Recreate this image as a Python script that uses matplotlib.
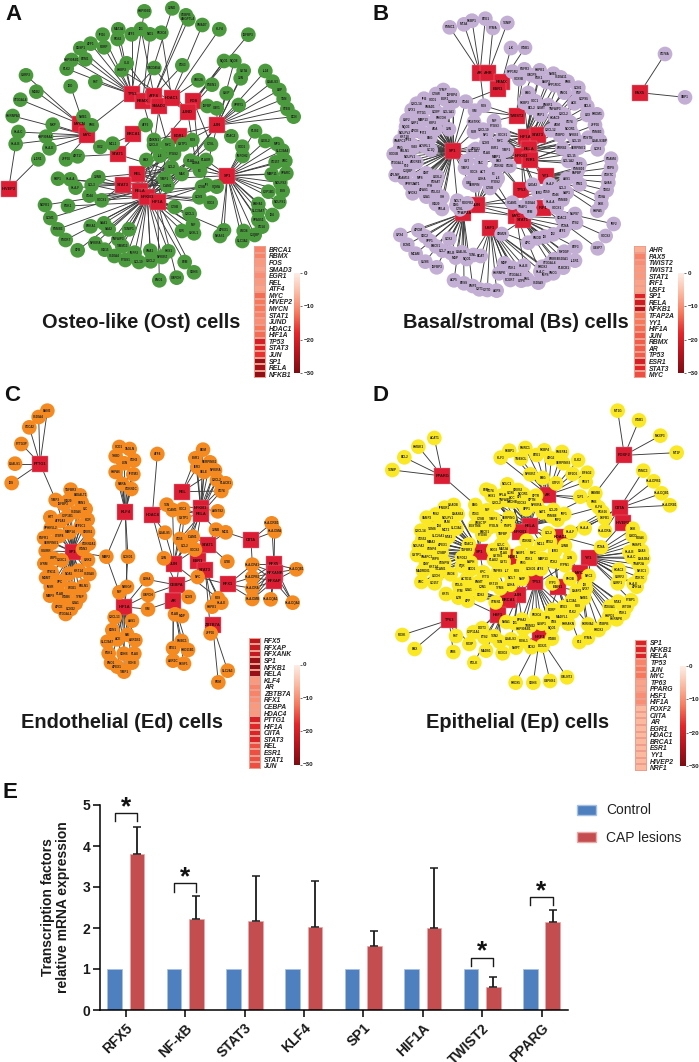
import matplotlib
matplotlib.use("Agg")
import matplotlib.pyplot as plt
from matplotlib.cm import ScalarMappable
from matplotlib.collections import LineCollection
from matplotlib.colors import LinearSegmentedColormap, Normalize
from matplotlib.patches import Patch
import numpy as np

plt.rcParams['font.family'] = ['Liberation Sans', 'DejaVu Sans']

W, H = 699, 1062

# network data: hub -> (x, y) and (gene, x, y, "hubs it links to")
hubs_a = {"TP53": (395, 282), "RBMX": (428, 303), "ATF4": (462, 287), "SMAD3": (478, 317), "HDAC1": (515, 295),
          "FOS": (580, 304), "JUND": (563, 336), "JUN": (652, 375), "EGR1": (536, 408), "BRCA1": (400, 403),
          "MYCN": (240, 372), "MYC": (262, 406), "STAT1": (353, 463), "REL": (412, 521), "STAT3": (369, 554),
          "RELA": (421, 572), "NFKB1": (442, 590), "HIF1A": (473, 605), "SP1": (682, 527), "HIVEP2": (26, 567)}
genes_a = [
    ("HSP90B1", 433, 34, "TP53"), ("JUND", 517, 25, "RBMX"), ("CEBPB", 558, 46, "ATF4"), ("ANGPTL4", 565, 58, "ATF4"),
    ("SMAD7", 607, 75, "HDAC1"), ("KLF4", 658, 88, "HDAC1"), ("IGFBP3", 745, 104, "FOS"), ("MAT2A", 355, 88, "TP53"),
    ("ID1", 423, 87, "ATF4"), ("ATF3", 395, 103, "TP53"), ("NID1", 450, 103, "RBMX"), ("REXO2", 484, 98, "HDAC1"),
    ("RGS2", 353, 117, "TP53"), ("IFI16", 308, 104, "TP53"), ("AFF1", 272, 131, "TP53"), ("PDRP", 312, 142, "TP53"),
    ("DUSP1", 241, 145, "TP53"), ("HSP90AB1", 215, 180, "TP53"), ("BTM1", 256, 178, "TP53"), ("PLK2", 200, 206, "TP53"),
    ("CLU", 380, 190, "SMAD3"), ("HSBP2", 365, 210, "JUND"), ("GADD45A", 463, 204, "TP53 JUND"), ("CD63", 547, 196, "ATF4"),
    ("NQO1", 672, 183, "JUND FOS"), ("NQO8", 703, 183, "JUN"), ("CKTA", 731, 212, "JUN"), ("JUN", 722, 235, "JUN"),
    ("IL24", 796, 213, "JUN"), ("LGALS3", 818, 245, "JUN"), ("LBP", 838, 270, "JUN"), ("TGN", 851, 297, "JUN"),
    ("STEG", 862, 327, "JUN"), ("DCN", 881, 350, "JUN"), ("UBE2S", 595, 241, "HDAC1"), ("PSEN1", 636, 254, "JUND"),
    ("GNIP", 680, 280, "JUN"), ("SPRY1", 716, 315, "JUN"), ("IGFBP", 622, 318, "JUND"), ("CAV1", 650, 325, "JUN"),
    ("IDO", 212, 259, "MYC"), ("FST", 286, 246, "TP53"), ("CSRP2", 78, 226, "MYCN"), ("MGB2", 109, 275, "MYCN"),
    ("ST3GAL4", 61, 299, "MYCN"), ("HNRNPA3", 38, 348, "MYC"), ("NME1", 250, 350, "MYC"), ("PHB", 275, 376, "TP53"),
    ("MXP", 158, 374, "MYC"), ("HLA-C", 55, 396, "MYC"), ("HSP90AA1", 138, 410, "MYC"), ("HLA-B", 47, 432, "MYC HIVEP2"),
    ("HLA-E", 148, 445, "MYC"), ("ATF3", 437, 375, "BRCA1 STAT1"), ("IL1R1", 115, 478, "HIVEP2"), ("ZFP36", 198, 478, "MYC"),
    ("ART17", 233, 469, "STAT1"), ("SIX2", 301, 441, "MYC"), ("MCL1", 338, 431, "BRCA1"), ("CMKN1", 462, 420, "RBMX JUN"),
    ("CXCL8", 462, 436, "RELA SMAD3"), ("MYC", 503, 435, "HIF1A ATF4"), ("GSTP1", 549, 433, "NFKB1 EGR1"), ("FOS", 577, 420, "RELA EGR1"),
    ("CTSL", 633, 433, "NFKB1 FOS"), ("UDAC2", 694, 409, "JUN"), ("PLIS2", 765, 394, "SP1"), ("LOXL2", 796, 423, "SP1"),
    ("SOD1", 727, 440, "SP1"), ("IMPDH2", 728, 468, "SP1"), ("MPG", 831, 432, "SP1"), ("SLC39A4", 848, 452, "SP1"),
    ("CD157", 827, 487, "SP1"), ("UBC", 856, 483, "SP1"), ("MMP11", 815, 523, "SP1"), ("SPARC", 859, 520, "SP1"),
    ("NDUFS3", 841, 548, "SP1"), ("CYP1B1", 805, 575, "SP1"), ("ESS", 848, 573, "SP1"), ("BAHA3", 775, 612, "SP1"),
    ("NDUFS1", 838, 606, "SP1"), ("SLC39A7", 775, 632, "SP1"), ("SPAG51", 775, 660, "SP1"), ("ID4", 817, 645, "SP1"),
    ("CD14", 786, 680, "SP1"), ("LMO4", 731, 693, "SP1"), ("C1QBP", 764, 705, "SP1"), ("SLC3A2", 727, 723, "SP1"),
    ("APEX1", 672, 691, "SP1 HIF1A"), ("NRAS1", 660, 708, "SP1"), ("BAX", 439, 480, "RELA HIF1A JUND"), ("IL6", 480, 467, "RELA NFKB1 STAT3 JUN"),
    ("PTGS2", 522, 462, "REL RELA HIF1A STAT3"), ("PLAU", 571, 482, "RELA NFKB1 JUN SP1"), ("LDHA", 588, 490, "HIF1A SP1 JUND"), ("PLAUR", 618, 480, "RELA NFKB1 SP1"),
    ("F3", 600, 512, "REL SP1 FOS"), ("CCL2", 515, 502, "RELA NFKB1 REL STAT3 EGR1"), ("MAX", 545, 522, "HIF1A STAT1 RELA"), ("TIMP1", 493, 536, "REL RELA STAT3 SP1"),
    ("ICAM1", 502, 557, "REL STAT3 NFKB1 JUN"), ("CTSB", 606, 560, "NFKB1 SP1"), ("IFI", 620, 555, "HIF1A SP1"), ("SQMA", 650, 560, "RELA SP1"),
    ("CCN2", 598, 592, "NFKB1 SP1 JUN"), ("SOD3", 632, 608, "RELA NFKB1"), ("CTSB", 524, 621, "STAT3 HIF1A"), ("CXCL1", 569, 642, "NFKB1 STAT3"),
    ("MIF", 579, 674, "HIF1A NFKB1"), ("CHSL1", 582, 700, "NFKB1"), ("F2R", 546, 693, "RELA"), ("PBP1", 174, 536, "STAT3"),
    ("HLA-A", 211, 538, "STAT3"), ("HLA-F", 227, 563, "STAT3"), ("JUNB", 295, 532, "STAT3 REL"), ("CCL3", 275, 555, "NFKB1 STAT3"),
    ("CD44", 268, 587, "RELA NFKB1"), ("SOCS1", 305, 601, "STAT3 RELA NFKB1"), ("PGK1", 204, 618, "HIF1A"), ("NDFB1", 135, 615, "RELA"),
    ("CCM1", 151, 654, "RELA"), ("PSMB3", 173, 688, "NFKB1"), ("PSORT", 197, 720, "NFKB1"), ("CFB", 233, 751, "NFKB1"),
    ("ERKA1", 272, 679, "NFKB1"), ("SAA1", 312, 670, "NFKB1"), ("SAA2", 326, 688, "NFKB1"), ("TXNIP1", 387, 688, "NFKB1"),
    ("TNFAIP3", 355, 718, "NFKB1"), ("TIMM13", 367, 739, "NFKB1"), ("NFKBIA", 286, 730, "NFKB1"), ("ISG15", 314, 749, "NFKB1"),
    ("S100A4", 343, 768, "NFKB1"), ("PTGS1", 376, 780, "NFKB1"), ("IMPF2", 404, 758, "NFKB1"), ("CCL19", 417, 786, "NFKB1"),
    ("SNA1", 451, 752, "NFKB1"), ("CSCL2", 452, 784, "NFKB1"), ("NFKBIZ", 486, 771, "NFKB1"), ("HES1", 505, 754, "NFKB1"),
    ("B2M", 554, 786, "NFKB1"), ("SDHB", 582, 817, "HIF1A"), ("GAPDH", 530, 833, "HIF1A"), ("ENO1", 478, 841, "HIF1A"),
]

hubs_b = {"AR": (390, 218), "AHR": (415, 220), "RBMX": (455, 247), "ESR1": (443, 268), "TWIST2": (500, 347),
          "HIF1A": (527, 411), "STAT3": (563, 404), "RELA": (537, 448), "NFKB1": (515, 468), "F2R1": (541, 481),
          "PAX5": (870, 278), "SP1": (308, 453), "JUN": (380, 614), "TFAP2A": (340, 640), "USF1": (421, 683),
          "TP53": (513, 570), "YY1": (588, 528), "IRF1": (580, 624), "MYC": (499, 648), "STAT1": (518, 660)}
genes_b = [
    ("PSMC1", 299, 82, "AR"), ("MT2A", 342, 73, "AR"), ("PEBP1", 366, 62, "AR"), ("BTG1", 406, 56, "AR"), ("PTMA", 429, 84, "AHR"),
    ("TXNIP", 472, 69, "AHR"), ("ILK", 483, 144, "RBMX"), ("ITGB1", 525, 143, "ESR1"), ("CD74A", 945, 162, "PAX5"), ("XBP1", 1005, 292, "PAX5"),
    ("PPP1R2", 487, 215, "ESR1"), ("FGFR3", 523, 208, "TWIST2"), ("SOX9B", 508, 237, "TWIST2"), ("GADPS", 546, 226, "TWIST2"), ("HSPB1", 569, 211, "HIF1A"),
    ("NME1", 610, 221, "HIF1A"), ("PGK1", 567, 235, "HIF1A"), ("S100A11", 632, 232, "STAT3"), ("BNIP3", 590, 246, "HIF1A"), ("PPP1R3C", 615, 256, "HIF1A"),
    ("PHB", 653, 245, "STAT3"), ("CCN1", 685, 263, "STAT3"), ("ENO1", 643, 278, "HIF1A"), ("PGF", 685, 279, "STAT3"), ("BAG", 535, 279, "TWIST2"),
    ("FKBP3", 523, 308, "RELA"), ("SOC1", 556, 304, "HIF1A"), ("BCL2", 544, 324, "NFKB1"), ("CKMT", 575, 324, "RELA"), ("ENSR1", 594, 315, "RELA"),
    ("TNFAIP3", 617, 328, "RELA"), ("ACE", 673, 310, "STAT3"), ("COPS5", 702, 298, "STAT3"), ("BCL6", 712, 319, "STAT3"), ("LOX", 712, 345, "STAT3"),
    ("PRDM1", 741, 343, "STAT3"), ("PKP1", 571, 345, "RELA"), ("HDAC9", 616, 353, "STAT3"), ("CXCL2", 642, 343, "RELA"), ("CD74", 660, 367, "RELA"),
    ("NCOR1", 660, 386, "STAT3"), ("ZFP36", 735, 375, "RELA"), ("PSMB3", 741, 397, "NFKB1"), ("ADM", 623, 374, "HIF1A"), ("CXCL12", 603, 391, "NFKB1"),
    ("CEBPD", 630, 406, "STAT3"), ("NFKB2", 670, 405, "RELA"), ("COL19", 680, 423, "RELA"), ("POSTN", 715, 413, "F2R1"), ("LGALS3BP", 750, 422, "RELA"),
    ("ERRB2", 637, 445, "F2R1"), ("SERPINE1", 686, 443, "RELA"), ("CCR3", 743, 448, "F2R1"), ("COL15", 664, 469, "RELA"), ("COL1A2", 655, 483, "F2R1"),
    ("TAP2", 689, 493, "F2R1"), ("PSMB10", 685, 508, "YY1"), ("FAPBP", 680, 520, "YY1"), ("PGAM4", 783, 476, "YY1"), ("FDPS", 783, 503, "YY1"),
    ("CDK7C", 776, 526, "YY1"), ("GNAS", 775, 548, "YY1"), ("TDO2", 770, 571, "YY1"), ("CD9A", 755, 590, "YY1"), ("DEK", 754, 612, "YY1"),
    ("HSPA5", 742, 632, "YY1"), ("PIM1", 689, 553, "YY1"), ("ASS1", 650, 536, "YY1"), ("HLA-F", 600, 553, "IRF1 MYC"), ("CCL3", 637, 565, "F2R1"),
    ("SAP1", 650, 578, "IRF1"), ("CD46", 618, 585, "TP53"), ("PSMB9", 638, 599, "IRF1"), ("HLA-A", 600, 605, "STAT1"), ("SOCS1", 620, 623, "STAT1"),
    ("IER2", 566, 578, "NFKB1 JUN"), ("CD59", 590, 575, "RELA"), ("NUP87", 675, 642, "IRF1"), ("ETS2", 678, 668, "IRF1"), ("IRF2", 791, 672, "IRF1"),
    ("SOCS2", 767, 708, "IRF1"), ("CASP7", 743, 745, "IRF1"), ("ODAC2", 637, 655, "MYC"), ("PCNA", 645, 678, "MYC"), ("ATF3", 638, 693, "STAT1"),
    ("IDI", 585, 710, "STAT1"), ("ID2", 610, 703, "MYC"), ("FMOD", 561, 715, "MYC"), ("APC", 535, 728, "USF1"), ("CRM28", 455, 702, "STAT1"),
    ("BTF3", 676, 741, "MYC"), ("MYDGF", 643, 755, "MYC"), ("IL1R1", 675, 782, "MYC"), ("S100A1", 640, 778, "STAT1"), ("ERBB4", 612, 778, "STAT1"),
    ("ST3GAL4", 600, 790, "STAT1"), ("PRDX3", 577, 800, "USF1"), ("PLBCB1", 640, 803, "STAT1"), ("SNCG", 610, 820, "USF1"), ("IMPS", 587, 826, "USF1"),
    ("S100A9", 565, 848, "USF1"), ("PML", 532, 838, "USF1"), ("UTP6", 514, 842, "USF1"), ("FCGRT", 481, 840, "USF1"), ("ST3GAL3", 498, 825, "USF1"),
    ("HNRNPK", 447, 820, "USF1"), ("MDP", 463, 790, "USF1"), ("PGK1", 486, 803, "USF1"), ("HLA-B", 521, 797, "MYC"), ("HLA-C", 571, 815, "MYC"),
    ("GPX4", 151, 705, "TFAP2A"), ("APOM", 205, 691, "TFAP2A"), ("SDC2", 225, 709, "TFAP2A"), ("SPP1", 240, 723, "TFAP2A"), ("BACE1", 258, 739, "TFAP2A"),
    ("ECM1", 172, 734, "TFAP2A"), ("MCAM", 197, 761, "TFAP2A"), ("GUSB", 226, 785, "TFAP2A"), ("IGFBP3", 260, 802, "TFAP2A"), ("COX2", 298, 716, "TFAP2A"),
    ("CCL7", 278, 752, "TFAP2A"), ("RELB", 303, 759, "TFAP2A"), ("LGALSL", 335, 757, "TFAP2A"), ("MGP", 317, 773, "TFAP2A"), ("NQO1", 350, 777, "TFAP2A"),
    ("TXNL", 370, 765, "USF1"), ("BCAT", 392, 768, "USF1"), ("ACP5", 312, 841, "TFAP2A"), ("BYSS", 342, 850, "TFAP2A"), ("EMP3", 368, 858, "TFAP2A"),
    ("CXT1", 388, 868, "USF1"), ("CYTO", 412, 870, "USF1"), ("AGPS", 440, 872, "USF1"),
    ("TYMP", 280, 270, "SP1"), ("IGFBP4", 308, 285, "SP1"), ("CTSW", 258, 282, "SP1"), ("IFI6", 222, 296, "SP1"), ("EGR1", 285, 298, "SP1"),
    ("SOD1", 250, 300, "SP1"), ("CSRP2", 310, 305, "SP1"), ("CXCL14", 200, 311, "SP1"), ("SMAD1", 240, 322, "SP1"), ("GPX1", 185, 330, "SP1"),
    ("PTTG1", 215, 338, "SP1"), ("COBP", 258, 335, "SP1"), ("COL1A1", 295, 335, "SP1"), ("USF2", 170, 360, "SP1"), ("MMP13", 218, 360, "SP1"),
    ("PHGDH", 273, 355, "SP1"), ("GBP1", 194, 368, "SP1"), ("KBP2", 248, 368, "SP1"), ("NQO3", 168, 380, "SP1"), ("APOE", 195, 392, "SP1"),
    ("ADA", 256, 388, "SP1"), ("JUN", 297, 388, "SP1"), ("NDUFV2", 165, 398, "SP1"), ("IFIT3", 220, 400, "SP1"), ("KRT18", 165, 410, "SP1"),
    ("BSG", 241, 414, "SP1"), ("SNAPC1", 150, 423, "SP1"), ("VSEI", 192, 440, "SP1"), ("TP53", 175, 420, "SP1"), ("GC1Q", 242, 450, "SP1"),
    ("ENG", 150, 444, "SP1"), ("FBLN1", 163, 453, "SP1"), ("NDUFV1", 179, 470, "SP1"), ("ACVRL1", 224, 439, "SP1"), ("SOD6B", 131, 463, "SP1"),
    ("ST3GAL1", 144, 489, "SP1"), ("F10", 168, 497, "SP1"), ("ADGRE5", 199, 487, "SP1"), ("C1QBP", 175, 513, "SP1"), ("CMT", 229, 520, "SP1"),
    ("APLNR", 137, 525, "SP1"), ("ADAM15", 163, 535, "SP1"), ("MPS", 210, 535, "SP1"), ("LOXL2", 262, 530, "SP1"), ("POSAT", 256, 547, "SP1"),
    ("SPRY2", 180, 553, "SP1"), ("SAT1", 200, 553, "SP1"), ("PTH", 240, 558, "SP1"), ("AFAS1", 222, 570, "SP1"), ("NFOX2", 188, 580, "SP1"),
    ("POLG2", 257, 576, "SP1"), ("GJA1", 229, 590, "SP1"), ("ISG20", 258, 612, "SP1"), ("SIH", 277, 592, "SP1"), ("RELA", 276, 627, "SP1"),
    ("COL1A1", 370, 453, "SP1 HIF1A"), ("CD44", 347, 305, "SP1 ESR1"), ("VIM", 375, 332, "SP1 TWIST2"), ("FOS", 402, 317, "AR TWIST2"), ("MIF", 432, 363, "NFKB1 TWIST2"),
    ("PTGS3", 433, 378, "HIF1A NFKB1"), ("CXCL10", 400, 389, "RELA NFKB1"), ("RGSTRK", 372, 366, "HIF1A"), ("FUR", 372, 396, "SP1 NFKB1"), ("NF1", 408, 405, "HIF1A NFKB1"),
    ("SOCS1", 460, 405, "RELA HIF1A"), ("CCN2", 409, 429, "NFKB1 SP1"), ("MYC", 450, 424, "HIF1A RELA NFKB1"), ("ESR1", 433, 445, "RELA F2R1"), ("PLAU", 410, 459, "NFKB1 SP1"),
    ("MMP1", 438, 471, "RELA F2R1 JUN"), ("TIMP1", 470, 451, "NFKB1 RELA"), ("APEX1", 377, 447, "SP1"), ("GST", 350, 483, "SP1"), ("TAC", 392, 488, "SP1 NFKB1"),
    ("BAX", 448, 484, "TP53 RELA"), ("CDKN2", 447, 497, "TP53 F2R1"), ("CD24", 478, 498, "NFKB1 YY1"), ("TIMP2", 345, 504, "SP1"), ("SOCS", 372, 517, "JUN SP1"),
    ("ACT", 398, 516, "JUN"), ("F3", 430, 521, "JUN NFKB1"), ("LOHA", 397, 536, "MYC"), ("IL6", 443, 535, "JUN NFKB1"), ("PTOS2", 436, 547, "MYC"),
    ("CAV", 358, 548, "SP1"), ("SERPIN", 375, 556, "JUN"), ("CTSB", 420, 564, "JUN MYC"), ("NOL7", 322, 602, "SP1"), ("DSG", 319, 616, "JUN"),
    ("PDGFB2", 352, 610, "MYC"), ("CTSL", 330, 628, "MYC"), ("VCAM1", 487, 608, "JUN MYC"), ("TRAF1", 520, 620, "NFKB1"), ("S100A4", 540, 610, "TP53"),
    ("B2M", 540, 635, "NFKB1 JUN"), ("CSDA2", 548, 554, "NFKB1 TP53"),
]

hubs_c = {"PTTG1": (120, 236), "SP1": (218, 500), "KLF4": (376, 380), "HDAC4": (457, 390), "REL": (547, 320),
          "NFKB1": (602, 370), "RELA": (603, 387), "CIITA": (753, 466), "STAT1": (624, 479), "JUN": (522, 536),
          "ESR1": (593, 527), "STAT3": (616, 556), "CEBPA": (530, 600), "AR": (520, 647), "RFX1": (685, 598),
          "RFX5": (822, 538), "RFXANK": (824, 563), "RFXAP": (822, 588), "HIF1A": (373, 665), "ZBTB7A": (638, 721)}
genes_c = [
    ("BNN3", 142, 77, "PTTG1"), ("S100A4", 116, 96, "PTTG1"), ("CDC42", 88, 127, "PTTG1"), ("PTTG3P", 64, 177, "PTTG1"), ("LGALS1", 45, 236, "PTTG1"),
    ("IDS", 35, 294, "PTTG1"), ("TIMP3", 167, 345, "SP1 PTTG1"), ("TGFBR3", 212, 314, "SP1"), ("B4GALT1", 240, 331, "SP1"), ("ISG20", 205, 347, "SP1"),
    ("IGFBP3", 190, 356, "SP1"), ("FBN1", 245, 353, "SP1"), ("S100A6", 230, 382, "SP1"), ("CYP1B1", 202, 394, "SP1"), ("CIC", 257, 372, "SP1"),
    ("HTT", 151, 397, "SP1"), ("ATP2A2", 182, 408, "SP1"), ("KDR", 263, 404, "SP1"), ("ATP2C1", 242, 424, "SP1"), ("SPHK5L2", 152, 430, "SP1"),
    ("CREB1", 264, 441, "SP1"), ("MMP14", 209, 442, "SP1"), ("FGFR1", 132, 459, "SP1"), ("LTBP4", 178, 453, "SP1"), ("SERPINE1", 155, 474, "SP1"),
    ("CDKN2A1", 267, 476, "SP1"), ("ITGN3", 249, 493, "SP1"), ("SIGIRR", 137, 498, "SP1"), ("LRP5", 160, 520, "SP1"), ("CXXC1", 185, 526, "SP1"),
    ("GRK2", 264, 525, "SP1"), ("LYRM", 133, 536, "SP1"), ("STK11", 155, 562, "SP1"), ("MGMT", 138, 578, "SP1"), ("KRT14", 235, 557, "SP1"),
    ("S100A8", 268, 567, "SP1"), ("NOA5", 207, 566, "SP1"), ("XPC", 180, 590, "SP1"), ("INSR", 152, 605, "SP1"), ("FBLN1", 250, 603, "SP1"),
    ("W361", 215, 610, "SP1"), ("TYMP", 240, 635, "SP1"), ("MMP9", 150, 632, "SP1"), ("PLAB", 180, 628, "SP1"), ("ITGB6", 197, 637, "SP1"),
    ("GJA1", 227, 655, "SP1"), ("APOE", 176, 665, "SP1"), ("CCN32", 213, 672, "SP1"), ("ST3GAL1", 197, 687, "SP1"), ("MMP2", 319, 515, "SP1 KLF4 HIF1A"),
    ("CCND1", 384, 515, "KLF4 HIF1A"), ("ATF4", 472, 207, "HDAC4"), ("SCD1", 358, 186, "KLF4"), ("TAGLN", 389, 192, "KLF4"), ("THBD", 347, 214, "KLF4"),
    ("CDH3", 402, 226, "KLF4"), ("LXN", 373, 235, "KLF4"), ("HSPA6", 347, 261, "KLF4"), ("IFITM3", 400, 268, "KLF4"), ("RARA", 367, 297, "KLF4"),
    ("CDKN1C", 394, 312, "KLF4"), ("TXN", 500, 359, "HDAC4 NFKB1"), ("VCAM1", 518, 375, "RELA JUN"), ("SOC3", 549, 372, "RELA JUN"), ("LGALS5", 495, 443, "HDAC4 JUN"),
    ("GSTP1", 552, 398, "RELA CEBPA"), ("BGM", 609, 194, "NFKB1"), ("ESR1", 586, 220, "NFKB1 REL"), ("SERPINB1", 630, 232, "NFKB1"), ("IER3", 592, 246, "REL NFKB1"),
    ("SELE", 612, 261, "NFKB1 RELA"), ("NFKBIA", 645, 256, "NFKB1 RELA REL"), ("CXCL2", 651, 285, "NFKB1 RELA"), ("PLACB1", 677, 295, "NFKB1"), ("CD74", 664, 318, "RELA REL"),
    ("ASNTS2", 653, 379, "NFKB1"), ("JUNB", 648, 434, "RELA STAT1"), ("MCI1", 677, 442, "STAT1 CIITA"), ("CD55", 540, 462, "RELA JUN"), ("ICAM1", 578, 455, "NFKB1 STAT1 JUN"),
    ("CCL2", 553, 484, "RELA NFKB1 JUN"), ("SOCS3", 585, 494, "RELA STAT1 JUN"), ("JUN", 492, 520, "HDAC4 CEBPA"), ("LDHA", 440, 583, "HIF1A CEBPA"), ("GAPDH", 444, 630, "HIF1A CEBPA"),
    ("VIM", 444, 673, "HIF1A AR"), ("NBEGF", 381, 606, "KLF4 HIF1A"), ("MIF", 358, 622, "HIF1A"), ("CCN2", 566, 636, "CEBPA"), ("FOS", 654, 640, "STAT3 JUN"),
    ("HLA-E", 664, 653, "STAT3"), ("HSPB1", 636, 665, "STAT3"), ("UTBI", 682, 530, "STAT1"), ("NFC", 593, 576, "CEBPA RFX1 ESR1 STAT3"), ("PLAB", 525, 688, "AR"),
    ("MGP", 546, 693, "CEBPA AR"), ("PMBC1", 545, 768, "AR"), ("BTG1", 519, 790, "AR"), ("HSD11B1", 564, 795, "AR"), ("AKR1C", 519, 827, "AR"),
    ("PESF1", 552, 836, "AR"), ("ZFP36", 632, 745, "STAT3"), ("SLC2A3", 683, 857, "ZBTB7A"), ("PKM", 655, 892, "ZBTB7A"), ("HLA-DRB1", 815, 415, "CIITA RFX5"),
    ("HLA-DMA", 824, 439, "CIITA RFX5"), ("HLA-DPA1", 757, 539, "CIITA RFX1 RFX5 RFXANK RFXAP"), ("HLA-DPB1", 757, 577, "RFX1 RFX5 RFXANK RFXAP"), ("HLA-DRA", 757, 610, "RFX1 RFX5 RFXANK RFXAP"), ("HLA-DMB", 757, 642, "RFX1 RFX5 RFXANK RFXAP"),
    ("HLA-DQB1", 889, 553, "RFX5 RFXANK RFXAP"), ("HLA-DQA1", 812, 643, "RFX5 RFXANK RFXAP"), ("HLA-DQA2", 878, 653, "RFX5 RFXANK RFXAP"), ("CXCL13", 344, 697, "HIF1A"), ("ASS1", 396, 707, "HIF1A"),
    ("EDN1", 337, 735, "HIF1A"), ("RAI", 382, 749, "HIF1A"), ("AKR1B1", 406, 766, "HIF1A"), ("SLC39A7", 322, 770, "HIF1A"), ("ACE", 353, 763, "HIF1A"),
    ("PGK1", 326, 805, "HIF1A"), ("SDHB", 371, 806, "HIF1A"), ("PLAU", 403, 806, "HIF1A"), ("ENO1", 333, 833, "HIF1A"), ("APEX1", 352, 845, "HIF1A"),
    ("SOHB", 396, 833, "HIF1A"), ("TIMP1", 372, 860, "HIF1A"),
]

hubs_d = {"PPARG": (277, 273), "FOXF2": (823, 211), "CIITA": (809, 369), "HIVEP2": (818, 414), "AR": (594, 330),
          "RELA": (540, 422), "NFKB1": (511, 441), "SP1": (389, 502), "EGR1": (488, 516), "HDAC1": (632, 455),
          "YY1": (716, 518), "MYC": (689, 565), "TP53": (556, 591), "ESR1": (625, 606), "JUN": (505, 630),
          "BRCA1": (475, 645), "HSF1": (445, 690), "TP63": (297, 705), "NRF1": (569, 755)}
genes_d = [
    ("ACAT1", 253, 159, "PPARG"), ("HMGK1", 205, 185, "PPARG"), ("BCL2", 163, 217, "PPARG"), ("TXNIP", 127, 255, "PPARG"), ("MT1G", 803, 77, "FOXF2"),
    ("ITGB1", 867, 106, "FOXF2"), ("MKXP3", 931, 152, "FOXF2"), ("MT1F", 980, 203, "FOXF2"), ("PSMC3", 880, 257, "CIITA"), ("HLA-DPB1", 911, 289, "CIITA"),
    ("HLA-DQB1", 935, 325, "CIITA"), ("HLA-DRB1", 960, 361, "CIITA"), ("PEBP1", 478, 197, "AR"), ("PMRC1", 526, 189, "AR"), ("FKBP4", 583, 196, "AR"),
    ("PMEPA1", 636, 201, "AR"), ("KLF3", 452, 218, "AR"), ("TM4SOL", 513, 221, "AR"), ("BTG1", 560, 210, "AR"), ("ARG2", 604, 220, "AR"),
    ("SERPINB2", 640, 235, "AR"), ("CLK2", 684, 226, "AR"), ("EIF4G2", 712, 263, "AR"), ("EIF2D1", 668, 267, "AR"), ("REST", 707, 291, "AR"),
    ("NFKBIZ", 541, 268, "AR"), ("BAG", 578, 279, "AR"), ("GTF2I", 618, 295, "AR"), ("TJP1", 691, 335, "AR"), ("BAMBI", 736, 325, "FOXF2 RELA"),
    ("PHB", 731, 351, "AR"), ("KLF4", 746, 367, "RELA"), ("RGS16", 758, 382, "HDAC1"), ("DEFB1", 764, 399, "HDAC1"), ("HLA-A", 704, 430, "CIITA HDAC1"),
    ("HLA-DRA", 765, 437, "CIITA"), ("HLA-F", 661, 441, "CIITA HDAC1"), ("IRF1", 643, 387, "RELA AR"), ("PCNA", 753, 487, "HIVEP2 HDAC1"), ("DEK", 848, 431, "YY1"),
    ("GSDD", 848, 452, "YY1"), ("PDIA6", 870, 459, "YY1"), ("PMSP1", 861, 479, "YY1"), ("HLA-B", 838, 501, "YY1"), ("DNAS", 876, 498, "YY1"),
    ("HLA-C", 845, 516, "YY1"), ("DNAJB4", 880, 521, "YY1"), ("TRAP2A", 866, 538, "YY1"), ("NR3C1", 876, 557, "YY1"), ("HDAC2", 807, 554, "YY1"),
    ("SURF2", 810, 576, "YY1"), ("CDK7C", 870, 578, "YY1"), ("SURF1", 803, 595, "YY1"), ("HLA-E", 851, 596, "YY1"), ("APH1A", 860, 605, "YY1"),
    ("MTA2", 804, 650, "MYC"), ("PTBP1", 843, 646, "YY1"), ("WTOH", 830, 665, "MYC"), ("CDE8A1", 779, 665, "MYC"), ("PGK1", 820, 685, "MYC"),
    ("HSPD1", 778, 692, "MYC"), ("HNRNPK", 800, 703, "MYC"), ("CEBPB", 763, 717, "MYC"), ("PRDX3", 746, 735, "MYC"), ("FKRNA2", 714, 718, "MYC ESR1"),
    ("PTMA", 714, 758, "MYC"), ("F12", 688, 771, "ESR1"), ("PLK2", 668, 680, "MYC"), ("FUS", 683, 662, "ESR1"), ("SLC3A1", 665, 647, "ESR1"),
    ("NME1", 702, 639, "MYC"), ("IDI", 705, 600, "MYC"), ("GPX7", 707, 612, "MYC"), ("DNAP2", 680, 617, "ESR1"), ("RHOB", 660, 581, "MYC"),
    ("NRC3", 716, 573, "YY1"), ("CKADB", 311, 360, "SP1"), ("IFNGR1", 284, 368, "SP1"), ("IRS2", 258, 388, "SP1"), ("NDUFV1", 293, 398, "SP1"),
    ("DNASE2", 323, 388, "SP1"), ("VAMP2", 230, 398, "SP1"), ("BLM", 292, 411, "SP1"), ("CXCL14", 213, 437, "SP1"), ("ID4", 268, 422, "SP1"),
    ("TOMS", 247, 433, "SP1"), ("MCT2", 288, 436, "SP1"), ("SLC3A2", 319, 430, "SP1"), ("SLC25A1", 266, 452, "SP1"), ("MTA1", 295, 456, "SP1"),
    ("CD552", 217, 462, "SP1"), ("MMA2", 243, 470, "SP1"), ("APEX1", 278, 479, "SP1"), ("NDUFA2", 206, 483, "SP1"), ("CENP4", 246, 493, "SP1"),
    ("GSTP1", 201, 510, "SP1"), ("CTSBP", 275, 503, "SP1"), ("SNAPC1", 232, 516, "SP1"), ("WPS", 255, 522, "SP1"), ("CENPW", 283, 533, "SP1"),
    ("CMY", 228, 536, "SP1"), ("KRT14", 250, 545, "SP1"), ("TICAM1", 272, 553, "SP1"), ("MADRD01", 219, 557, "SP1"), ("UGDH", 260, 573, "SP1"),
    ("LMO4", 302, 568, "SP1"), ("UBC", 214, 591, "SP1"), ("CO157", 254, 595, "SP1"), ("PQR", 336, 543, "SP1"), ("IMPD12", 336, 518, "SP1"),
    ("BOD1", 365, 552, "SP1"), ("EAPH", 362, 532, "SP1"), ("VDAC3", 357, 478, "SP1"), ("TGFBR3", 352, 496, "SP1"), ("KPC", 400, 562, "SP1 TP53"),
    ("ACTD11", 350, 582, "SP1 JUN"), ("PTTG", 408, 577, "JUN"), ("ENMT", 388, 592, "JUN"), ("CJN1", 398, 607, "JUN"), ("KRT19", 431, 597, "JUN BRCA1"),
    ("POLG", 327, 599, "SP1 BRCA1"), ("PTM", 330, 617, "BRCA1"), ("GJA1", 355, 614, "BRCA1"), ("KRT5", 288, 627, "BRCA1"), ("EZR", 325, 638, "BRCA1"),
    ("DOS2", 392, 630, "BRCA1"), ("APP", 353, 647, "HSF1"), ("NOL7", 486, 580, "TP53 JUN"), ("TYMS", 451, 610, "JUN"), ("LOHA", 482, 599, "JUN TP53"),
    ("NMP", 516, 582, "TP53 BRCA1"), ("STMN1", 437, 652, "BRCA1 HSF1"), ("BSG", 376, 360, "PPARG NFKB1"), ("B2M", 409, 314, "NFKB1"), ("NOLC1", 472, 298, "NFKB1"),
    ("CD74", 421, 318, "NFKB1"), ("HES1", 425, 333, "NFKB1"), ("PPLA", 457, 331, "RELA"), ("COX6", 483, 325, "RELA"), ("CREB3", 504, 315, "RELA"),
    ("HCC", 485, 340, "NFKB1"), ("NCOR1", 520, 327, "RELA"), ("CFI", 508, 336, "RELA"), ("CXCL2", 440, 353, "RELA NFKB1"), ("TNFAIP3", 465, 345, "NFKB1 RELA"),
    ("NADHB", 487, 350, "NFKB1 RELA"), ("SOCS3", 517, 353, "RELA NFKB1"), ("OPTN", 545, 345, "RELA NFKB1"), ("CFTR", 558, 332, "RELA"), ("NFKBIA", 560, 360, "RELA NFKB1"),
    ("UPP1", 529, 373, "NFKB1 RELA"), ("SAT1", 578, 382, "RELA"), ("CCL20", 610, 375, "RELA"), ("PSMB8", 605, 394, "RELA"), ("IRF2", 623, 405, "RELA"),
    ("MIF", 411, 376, "NFKB1 RELA"), ("CD63", 378, 387, "SP1 NFKB1"), ("TIMP1", 431, 401, "NFKB1 RELA"), ("CTSB", 392, 402, "NFKB1"), ("SERPING", 477, 398, "NFKB1 RELA"),
    ("PSIP1", 475, 422, "NFKB1"), ("UBSCTP", 393, 415, "NFKB1 SP1"), ("EGSTM4", 375, 423, "SP1"), ("PTOLN", 433, 423, "NFKB1"), ("BACE1", 405, 440, "NFKB1"),
    ("PTOS8", 397, 449, "RELA"), ("TBFBP", 460, 448, "RELA"), ("CCL2", 595, 445, "RELA NFKB1 HDAC1"), ("BTG2", 600, 471, "RELA HDAC1"), ("MCL1", 574, 478, "NFKB1 RELA"),
    ("CDKN2", 530, 467, "EGR1 RELA"), ("MYC", 550, 503, "EGR1 HDAC1"), ("GCLC", 453, 479, "EGR1"), ("MAT2A", 460, 491, "EGR1"), ("BDG2", 430, 495, "EGR1 SP1"),
    ("PLAU", 460, 503, "EGR1"), ("CKTN1", 443, 513, "EGR1"), ("PLAU2", 432, 525, "EGR1 SP1"), ("GST1", 461, 530, "EGR1"), ("NS8F1", 510, 504, "EGR1"),
    ("CDK1", 538, 522, "EGR1 TP53"), ("MMP13", 579, 522, "TP53 ESR1"), ("IER3", 615, 499, "ESR1 HDAC1"), ("JUNB", 645, 482, "HDAC1 JUN"), ("PCK2", 612, 530, "ESR1 TP53"),
    ("JUN", 660, 518, "HDAC1 MYC"), ("PTPN1", 645, 541, "MYC JUN"), ("CCND1", 543, 552, "TP53 JUN"), ("REG", 520, 533, "EGR1 JUN"), ("ATF2", 573, 552, "TP53"),
    ("IL7", 472, 558, "EGR1 JUN"), ("FOS", 499, 558, "JUN EGR1 TP53"), ("TNFRS", 445, 558, "BRCA1"), ("PTP3", 607, 595, "ESR1 MYC"), ("FST", 318, 753, "TP63"),
    ("CYP11A1", 370, 742, "HSF1"), ("DDIT3", 396, 730, "BRCA1"), ("TXN2", 433, 754, "BRCA1"), ("ETS2", 403, 757, "BRCA1"), ("TXN", 449, 770, "HSF1"),
    ("NMA1", 469, 711, "JUN"), ("ID1", 494, 715, "JUN"), ("EPHA2", 516, 704, "JUN TP53"), ("TRIM22", 541, 722, "TP53"), ("HSP90AB1", 520, 732, "TP53"),
    ("LGALS3", 483, 763, "JUN"), ("FOSL1", 520, 768, "NRF1"), ("NMPT", 498, 788, "NRF1"), ("BCS2", 544, 787, "NRF1"), ("DDX21", 578, 782, "NRF1"),
    ("ITGB8", 606, 761, "NRF1"), ("NQO1", 605, 730, "TP53"), ("SUSP1", 575, 716, "TP53"), ("REXO2", 560, 691, "TP53"), ("SPA", 593, 699, "TP53 ESR1"),
    ("PDRP", 607, 675, "TP53"), ("BTG3", 640, 667, "TP53 ESR1"), ("MADYL1", 637, 696, "TP53"), ("CBS", 613, 710, "TP53"), ("FHRAKN", 655, 716, "ESR1"),
    ("FOXP", 358, 777, "TP63"), ("UBB", 310, 801, "TP63"), ("MADS1", 408, 797, "BRCA1"), ("FOXO3", 458, 805, "HSF1"), ("POLK", 373, 833, "HSF1"),
    ("FOXK", 157, 750, "TP63"), ("BAX", 194, 792, "TP63"), ("PRDX5", 497, 893, "NRF1"), ("SDHB", 550, 893, "NRF1"), ("CAPNS1", 600, 888, "NRF1"),
    ("GALNT3", 651, 877, "NRF1"),
]

# heatmap legends
hm_names_a = ["BRCA1", "RBMX", "FOS", "SMAD3", "EGR1", "REL", "ATF4", "MYC", "HIVEP2", "MYCN", "STAT1", "JUND", "HDAC1", "HIF1A", "TP53", "STAT3", "JUN", "SP1", "RELA", "NFKB1"]
hm_vals_a = [-11, -11, -9, -8, -10, -9, -8, -13, -12, -12, -11, -10, -12, -13, -20, -19, -17, -27, -26, -28]
hm_names_b = ["AHR", "PAX5", "TWIST2", "TWIST1", "STAT1", "IRF1", "USF1", "SP1", "RELA", "NFKB1", "TFAP2A", "YY1", "HIF1A", "JUN", "RBMX", "AR", "TP53", "ESR1", "STAT3", "MYC"]
hm_vals_b = [-7, -11, -10, -9, -9, -8, -8, -19, -21, -24, -12, -12, -13, -14, -14, -14, -14, -20, -18, -15]
hm_names_c = ["RFX5", "RFXAP", "RFXANK", "SP1", "NFKB1", "RELA", "KLF4", "AR", "ZBTB7A", "RFX1", "CEBPA", "HDAC4", "PTTG1", "HIF1A", "CIITA", "STAT3", "REL", "ESR1", "STAT1", "JUN"]
hm_vals_c = [-23, -22, -22, -27, -28, -27, -9, -11, -11, -10, -9, -9, -20, -18, -19, -19, -15, -15, -15, -15]
hm_names_d = ["SP1", "NFKB1", "RELA", "TP53", "JUN", "MYC", "TP63", "PPARG", "HSF1", "HIF1A", "FOXF2", "CIITA", "AR", "EGR1", "HDAC1", "BRCA1", "ESR1", "YY1", "HIVEP2", "NRF1"]
hm_vals_d = [-19, -19, -19, -11, -12, -12, -8, -8, -10, -10, -6, -6, -6, -6, -6, -6, -6, -6, -6, -6]

# panel E
tf_names = ["RFX5", "NF-κB", "STAT3", "KLF4", "SP1", "HIF1A", "TWIST2", "PPARG"]
control = [1, 1, 1, 1, 1, 1, 1, 1]
cap = [3.8, 2.22, 2.16, 2.02, 1.57, 2.0, 0.55, 2.14]
cap_top = [4.47, 2.77, 3.28, 3.14, 1.93, 3.47, 0.8, 2.44]
sig_idx = [0, 1, 6, 7]
sig_y = [4.8, 3.09, 1.28, 2.76]

# -30 is the dark end, 0 the pale one
cmap = LinearSegmentedColormap.from_list("tf", ["#7e0c12", "#b5141d", "#e3262a", "#f6795c", "#fbb9a0", "#fdeee6"])
norm = Normalize(-30, 0)

fig = plt.figure(figsize=(W / 100, H / 100), dpi=100)


def px_axes(x, y, w, h):
    return fig.add_axes([x / W, 1 - (y + h) / H, w / W, h / H])


def draw_network(ox, oy, hubs, genes, colour):
    ax = px_axes(ox, oy, 350, 390)
    ax.set_xlim(0, 1050)
    ax.set_ylim(1170, 0)
    ax.axis("off")
    ax.patch.set_alpha(0)
    segs = []
    for name, x, y, links in genes:
        for hub in links.split():
            segs.append([(x, y), hubs[hub]])
    ax.add_collection(LineCollection(segs, colors="#3a3a3a", linewidths=0.65, zorder=1))
    hx = [p[0] for p in hubs.values()]
    hy = [p[1] for p in hubs.values()]
    ax.scatter(hx, hy, s=118, marker="s", c="#dc1e35", edgecolors="#ee7f8c", linewidths=0.3, zorder=2)
    ax.scatter([g[1] for g in genes], [g[2] for g in genes], s=112, c=colour, edgecolors="none", zorder=3)
    for name, x, y, links in genes:
        ax.text(x, y, name, fontsize=2.2, fontweight="bold", ha="center", va="center", color="#222222", zorder=4)
    for name, (x, y) in hubs.items():
        ax.text(x, y, name, fontsize=2.9, fontweight="bold", ha="center", va="center", color="#2a0a0a", zorder=5)


def draw_heatmap(x, y, cx, cy, names, vals):
    ax = px_axes(x, y, 12.3, 131.5)
    ax.pcolormesh(np.array(vals).reshape(-1, 1), cmap=cmap, norm=norm, edgecolors="#ef9d8c", linewidth=0.2)
    ax.set_ylim(len(vals), 0)
    ax.set_xticks([])
    ax.set_yticks(np.arange(len(vals)) + 0.5, names)
    ax.yaxis.tick_right()
    ax.tick_params(axis="y", length=0, pad=2.0)
    for lab in ax.get_yticklabels():
        lab.set_fontsize(4.9)
        lab.set_fontweight("bold")
        lab.set_fontstyle("italic")
        lab.set_color("#222222")
    for s in ax.spines.values():
        s.set_visible(False)
    cax = px_axes(cx, cy, 6, 100)
    cb = fig.colorbar(ScalarMappable(norm=norm, cmap=cmap), cax=cax, ticks=[0, -10, -20, -30])
    cb.outline.set_visible(False)
    cb.ax.tick_params(length=1.5, width=0.4, pad=1, labelsize=4.5)
    cb.ax.set_yticklabels(["0", "−10", "−20", "−30"], fontweight="bold", color="#222222")


draw_network(0, 0, hubs_a, genes_a, "#4c9a3e")
draw_network(350, 0, hubs_b, genes_b, "#c3afd3")
draw_network(0, 385, hubs_c, genes_c, "#f58a21")
draw_network(350, 385, hubs_d, genes_d, "#fbe824")

draw_heatmap(253.5, 246, 294, 273, hm_names_a, hm_vals_a)
draw_heatmap(633.5, 246.5, 678, 273, hm_names_b, hm_vals_b)
draw_heatmap(249, 637.5, 293.5, 664.5, hm_names_c, hm_vals_c)
draw_heatmap(635, 639.5, 679.5, 666, hm_names_d, hm_vals_d)

# panel letters and titles go in figure pixel space
for letter, x, y in [("A", 5, 20), ("B", 372, 20), ("C", 4, 401), ("D", 372, 401), ("E", 3, 798)]:
    fig.text(x / W, 1 - y / H, letter, fontsize=16, fontweight="bold", color="#111111", va="baseline")
for title, x, y in [("Osteo-like (Ost) cells", 141, 323), ("Basal/stromal (Bs) cells", 166 + 350, 323),
                    ("Endothelial (Ed) cells", 122, 723), ("Epithelial (Ep) cells", 168 + 350, 723)]:
    fig.text(x / W, 1 - y / H, title, fontsize=14.4, fontweight="bold", color="#1a1a1a", ha="center", va="center")

# panel E bars
ax = px_axes(100, 805, 468, 205)
pos = np.arange(len(tf_names))
off = 0.188
bw = 0.245
ax.bar(pos - off, control, bw, color="#4e7fbe", edgecolor="#a6c0e4", linewidth=0.5, label="Control")
ax.bar(pos + off, cap, bw, color="#c44d50", edgecolor="#eba9a6", linewidth=0.5, label="CAP lesions")
err = np.array(cap_top) - np.array(cap)
ax.errorbar(pos + off, cap, yerr=[np.zeros(len(cap)), err], fmt="none", ecolor="#1a1a1a", elinewidth=1.3, capsize=3.2, capthick=1.1)
for i, y in zip(sig_idx, sig_y):
    ax.plot([i - off, i - off, i + off, i + off], [y - 0.2, y, y, y - 0.2], color="#1a1a1a", lw=1.0, clip_on=False)
    ax.text(i, y + 0.14, "*", fontsize=19, fontweight="bold", ha="center", va="center", color="#111111", clip_on=False)
ax.set_xlim(-0.433, 7.446)
ax.set_ylim(0, 5)
ax.set_yticks([0, 1, 2, 3, 4, 5])
ax.set_xticks(pos, tf_names, rotation=45, ha="right", rotation_mode="anchor")
ax.spines["top"].set_visible(False)
ax.spines["right"].set_visible(False)
ax.spines["left"].set_linewidth(1.1)
ax.spines["bottom"].set_linewidth(1.1)
ax.tick_params(axis="both", width=1.1, length=5, pad=2)
ax.tick_params(axis="x", pad=3)
for lab in ax.get_xticklabels() + ax.get_yticklabels():
    lab.set_fontsize(10)
    lab.set_fontweight("bold")
    lab.set_color("#1a1a1a")
ax.set_ylabel("Transcription factors\nrelative mRNA expression", fontsize=10, fontweight="bold", color="#1a1a1a", labelpad=9, linespacing=1.1)
ax.patch.set_alpha(0)
handles = [Patch(facecolor="#4e7fbe", edgecolor="#a6c0e4", label="Control"), Patch(facecolor="#c44d50", edgecolor="#eba9a6", label="CAP lesions")]
fig.legend(handles=handles, loc="upper left", bbox_to_anchor=(577 / W, 1 - 803.5 / H), frameon=False, fontsize=10,
           borderpad=0, borderaxespad=0, handlelength=1.37, handleheight=0.72, labelspacing=0.95, handletextpad=0.72,
           labelcolor="#222222")

fig.savefig("out.png", dpi=100)
